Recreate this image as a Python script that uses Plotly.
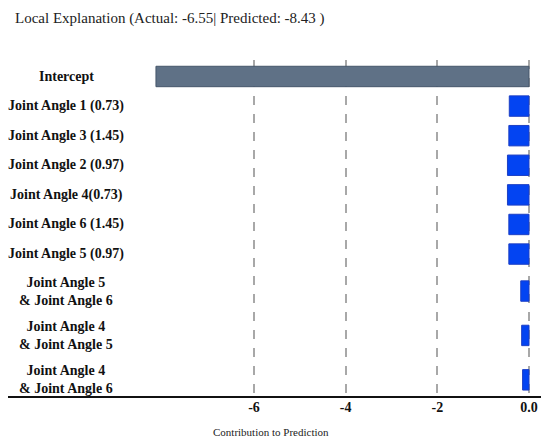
import plotly.graph_objects as go

features = [
    "Intercept",
    "Joint Angle 1 (0.73)",
    "Joint Angle 3 (1.45)",
    "Joint Angle 2 (0.97)",
    "Joint Angle 4(0.73)",
    "Joint Angle 6 (1.45)",
    "Joint Angle 5 (0.97)",
    "Joint Angle 5<br>& Joint Angle 6",
    "Joint Angle 4<br>& Joint Angle 5",
    "Joint Angle 4<br>& Joint Angle 6",
]
contributions = [-8.14, -0.43, -0.44, -0.47, -0.47, -0.44, -0.44, -0.18, -0.16, -0.14]
tick_vals = [-6, -4, -2, 0]
tick_text = ["-6", "-4", "-2", "0.0"]

# Row layout: two-line labels get taller rows
row_h = [1.0 + 0.5 * (f.count("<br>")) for f in features]
row_pos = []
acc = 0.0
for i, h in enumerate(row_h):
    if i == 0:
        acc = 0.0
    else:
        acc += (row_h[i - 1] + h) / 2
    row_pos.append(acc)

colors = ["#5f7186"] + ["#0344f2"] * (len(features) - 1)
line_colors = ["#46566a"] + ["#1d3fc4"] * (len(features) - 1)

fig = go.Figure()
fig.add_trace(go.Bar(
    x=contributions,
    y=row_pos,
    orientation="h",
    marker=dict(color=colors, line=dict(color=line_colors, width=1)),
    width=0.69,
    showlegend=False,
    customdata=features,
    hovertemplate="%{customdata}: %{x}<extra></extra>",
))

for f, p in zip(features, row_pos):
    fig.add_annotation(
        x=-0.215, xref="paper", y=p, yref="y",
        text="<b>" + f + "</b>", showarrow=False,
        xanchor="center", yanchor="middle", align="center",
        font=dict(family="Liberation Serif", size=14, color="#111111"),
    )

fig.add_annotation(
    x=(271 - 150) / 390, xref="paper", y=-0.104, yref="paper",
    text="Contribution to Prediction", showarrow=False,
    xanchor="center", yanchor="middle",
    font=dict(family="Liberation Serif", size=11, color="#222222"),
)

fig.add_shape(
    type="line", xref="paper", yref="paper",
    x0=-142 / 390, x1=(541 - 142) / 390, y0=0, y1=0,
    line=dict(color="#111111", width=2),
)

fig.update_layout(
    width=541, height=430,
    margin=dict(l=142, r=9, t=52, b=41),
    paper_bgcolor="white", plot_bgcolor="white",
    title=dict(
        text="Local Explanation (Actual: -6.55| Predicted: -8.43 )",
        x=7 / 541, xanchor="left", y=1 - 10 / 430, yanchor="middle",
        font=dict(family="Liberation Serif", size=15, color="#222222"),
    ),
    xaxis=dict(
        range=[-8.27, 0.24],
        tickvals=tick_vals, ticktext=tick_text,
        tickfont=dict(family="Liberation Serif", size=14, color="#111111", weight="bold"),
        showgrid=True, gridcolor="#a8a8a8", griddash="dash", gridwidth=2,
        zeroline=False, showline=False, ticks="",
    ),
    yaxis=dict(
        range=[10.83, -0.557], showticklabels=False, showgrid=False,
        zeroline=False, ticks="",
    ),
)

fig.write_html("out.html")
